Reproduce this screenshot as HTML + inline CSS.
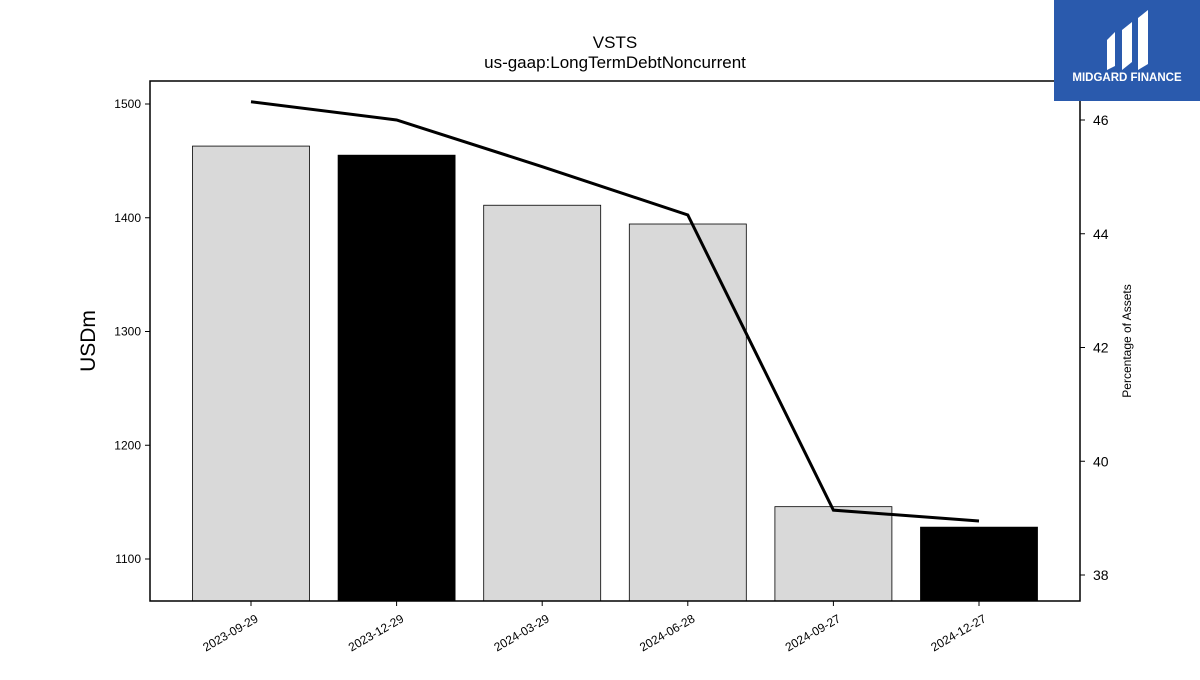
<!DOCTYPE html>
<html><head><meta charset="utf-8"><style>
body{margin:0;background:#fff;font-family:"Liberation Sans","DejaVu Sans",sans-serif;}
svg text{font-family:"Liberation Sans","DejaVu Sans",sans-serif;}
</style></head><body>
<svg id="chart" width="1200" height="675" viewBox="0 0 1200 675">
<rect x="0" y="0" width="1200" height="675" fill="#fff"/>
<text x="615" y="48" text-anchor="middle" font-size="17">VSTS</text>
<text x="615" y="68" text-anchor="middle" font-size="17">us-gaap:LongTermDebtNoncurrent</text>
<text transform="translate(95,341) rotate(-90)" text-anchor="middle" font-size="21">USDm</text>
<text transform="translate(1131,341) rotate(-90)" text-anchor="middle" font-size="12">Percentage of Assets</text>
<g id="bars"></g><g id="line"></g><g id="axes"></g>
<rect x="150" y="81" width="930" height="520" fill="none" stroke="#000" stroke-width="1.5"/>
<g>
<rect x="1054" y="0" width="146" height="101" fill="#2a5aad"/>
<path d="M1107 40 l8 -8 v34 l-8 4z M1122 30 l10 -8 v40 l-10 8z M1138 18 l10 -8 v54 l-10 6z" fill="#fff"/>
<text x="1127" y="81" text-anchor="middle" font-size="11.5" font-weight="bold" fill="#fff">MIDGARD FINANCE</text>
</g>
</svg>
<script>
const categories=["2023-09-29","2023-12-29","2024-03-29","2024-06-28","2024-09-27","2024-12-27"];
const barValues=[1463,1455,1411,1394.5,1146,1128];
const pctValues=[46.32,46.0,45.18,44.33,39.14,38.95];
const leftTicks=[1100,1200,1300,1400,1500];
const rightTicks=[38,40,42,44,46];
const NS="http://www.w3.org/2000/svg";
const X0=150,X1=1080,Y0=81,Y1=601;
const yL=v=>559-(v-1100)*1.1375;
const yR=v=>575-(v-38)*56.875;
const step=(X1-X0)/6.385;
const xC=i=>251+i*145.6;
function mk(t,a,p){const e=document.createElementNS(NS,t);for(const k in a)e.setAttribute(k,a[k]);p.appendChild(e);return e;}
const bars=document.getElementById('bars'),line=document.getElementById('line'),axes=document.getElementById('axes');
categories.forEach((c,i)=>{
 const y=yL(barValues[i]);
 const r=mk('rect',{x:xC(i)-58.5,y:y,width:117,height:Y1-y,fill:(i==1||i==5)?'#000':'#d9d9d9',stroke:'#000','stroke-width':0.8},bars);
 
 
 const t=mk('line',{x1:xC(i),x2:xC(i),y1:Y1,y2:Y1+5,stroke:'#000'},axes);
 const l=mk('text',{transform:`translate(${xC(i)+8},${Y1+20}) rotate(-30)`,'text-anchor':'end','font-size':12},axes);
 l.textContent=c;
 
 
});
const pts=pctValues.map((v,i)=>xC(i)+','+yR(v)).join(' ');
const pl=mk('polyline',{points:pts,fill:'none',stroke:'#000','stroke-width':3},line);


leftTicks.forEach(v=>{
 mk('line',{x1:X0-5,x2:X0,y1:yL(v),y2:yL(v),stroke:'#000'},axes);
 const t=mk('text',{x:X0-9,y:yL(v)+4,'text-anchor':'end','font-size':12},axes);
 t.textContent=v;
 
 
});
rightTicks.forEach(v=>{
 mk('line',{x1:X1,x2:X1+5,y1:yR(v),y2:yR(v),stroke:'#000'},axes);
 const t=mk('text',{x:X1+13,y:yR(v)+5,'font-size':14},axes);
 t.textContent=v;
 
 
});
</script>
</body></html>
